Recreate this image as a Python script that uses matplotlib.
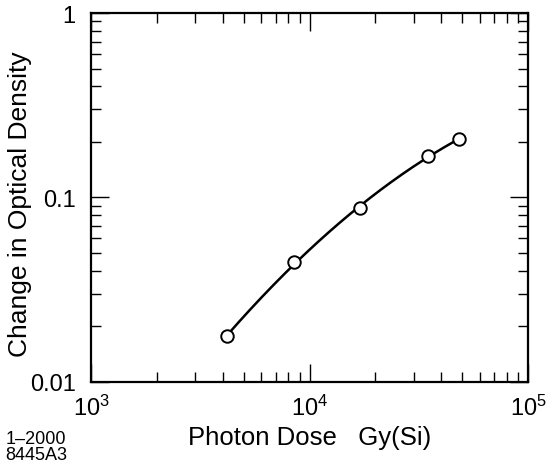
import numpy as np
import matplotlib
matplotlib.use("Agg")
import matplotlib.pyplot as plt
from matplotlib.ticker import FixedLocator, FixedFormatter, LogLocator

plt.rcParams['font.family'] = ['Liberation Sans', 'DejaVu Sans']
plt.rcParams['mathtext.fontset'] = 'custom'
plt.rcParams['mathtext.rm'] = 'Liberation Sans'

# data
dose = [4200, 8500, 17000, 35000, 48500]
od_change = [0.0178, 0.0445, 0.0874, 0.1685, 0.2075]

y_ticks = [0.01, 0.1, 1]
y_labels = ['0.01', '0.1', '1']

fig = plt.figure(figsize=(5.46, 4.64), dpi=100)
ax = fig.add_axes([0.1667, 0.1746, 0.8003, 0.7952])

# smooth curve: quadratic fit in log-log space
lx = np.log10(dose)
ly = np.log10(od_change)
coef = np.polyfit(lx, ly, 2)
xs = np.linspace(lx[0], lx[-1], 200)
ax.plot(10 ** xs, 10 ** np.polyval(coef, xs), color='black', lw=1.8, zorder=2)
ax.plot(dose, od_change, 'o', ms=9, mfc='white', mec='black', mew=1.4, zorder=3)

ax.set_xscale('log')
ax.set_yscale('log')
ax.set_xlim(1e3, 1e5)
ax.set_ylim(0.01, 1)

ax.xaxis.set_major_locator(LogLocator(base=10, numticks=10))
ax.xaxis.set_minor_locator(LogLocator(base=10, subs=np.arange(2, 10), numticks=10))
ax.yaxis.set_major_locator(FixedLocator(y_ticks))
ax.yaxis.set_major_formatter(FixedFormatter(y_labels))
ax.yaxis.set_minor_locator(LogLocator(base=10, subs=np.arange(2, 10), numticks=10))

ax.tick_params(which='both', direction='in', top=True, right=True, width=1, colors='black')
ax.tick_params(which='major', length=13, labelsize=17)
ax.tick_params(which='minor', length=7)
ax.tick_params(axis='x', which='major', pad=9)
ax.tick_params(axis='y', which='major', pad=11)
for s in ax.spines.values():
    s.set_linewidth(1.6)

ax.set_xlabel('Photon Dose   Gy(Si)', fontsize=18.5, labelpad=4)
ax.set_ylabel('Change in Optical Density', fontsize=19)
ax.yaxis.set_label_coords(-0.135, 0.485)

fig.text(0.010, 0.044, '1\u20132000', fontsize=13)
fig.text(0.010, 0.008, '8445A3', fontsize=13)

fig.savefig('out.png', dpi=100)
